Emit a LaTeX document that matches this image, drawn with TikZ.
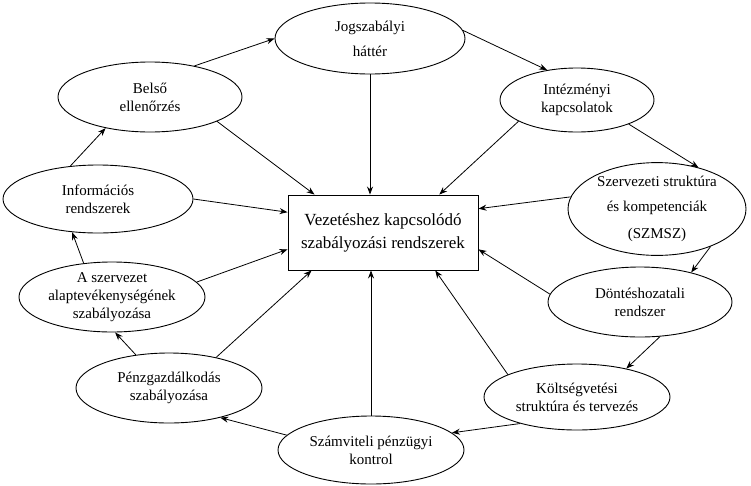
\documentclass[tikz,border=0pt]{standalone}
\usepackage{fontspec}
\setmainfont{Liberation Serif}
\usetikzlibrary{shapes.geometric,arrows.meta}

\begin{document}
\begin{tikzpicture}[x=1pt,y=-1pt,
  oval/.style 2 args={ellipse,draw,line width=0.9pt,inner sep=0pt,minimum width=#1,minimum height=#2,align=center,font=\fontsize{15}{18}\selectfont},
  mainbox/.style={rectangle,draw,line width=0.9pt,minimum width=190pt,minimum height=75pt,align=center,font=\fontsize{17}{23}\selectfont},
  link/.style={line width=0.8pt,-{Stealth[length=8pt,width=6pt]}}]
\useasboundingbox (0,0) rectangle (751,485);
\node[mainbox] (box) at (383,232.5) {Vezetéshez kapcsolódó\\szabályozási rendszerek};
\node[oval={190pt}{71pt}] (jog) at (370,38.5) {Jogszabályi\\[7pt]háttér};
\node[oval={184pt}{70pt}] (belso) at (150,97) {Belső\\ellenőrzés};
\node[oval={154pt}{64pt}] (int) at (577,100) {Intézményi\\kapcsolatok};
\node[oval={178pt}{88pt}] (szerv) at (657,209) {Szervezeti struktúra\\[7pt]és kompetenciák\\[9pt](SZMSZ)};
\node[oval={184pt}{70pt}] (dont) at (640,302) {Döntéshozatali\\rendszer};
\node[oval={186pt}{66pt}] (kolts) at (577,397) {Költségvetési\\struktúra és tervezés};
\node[oval={186pt}{68pt}] (szamv) at (371,450) {Számviteli pénzügyi\\kontrol};
\node[oval={186pt}{70pt}] (penz) at (169,388) {Pénzgazdálkodás\\szabályozása};
\node[oval={186pt}{70pt}] (aszerv) at (112,297) {A szervezet\\alaptevékenységének\\szabályozása};
\node[oval={190pt}{68pt}] (inf) at (98,199) {Információs\\rendszerek};

\draw[link] (belso.35) -- (jog.west);
\draw[link] (jog.5) -- (int.135);
\draw[link] (int.-25) -- (szerv.45);
\draw[link] (szerv.-35) -- (dont.30);
\draw[link] (dont.-60) -- (kolts.30);
\draw[link] (kolts.205) -- (szamv.12);
\draw[link] (szamv.170) -- (penz.-30);
\draw[link] (penz.135) -- (aszerv.-85);
\draw[link] (aszerv.130) -- (inf.-128);
\draw[link] (inf.130) -- (belso.-145);

\draw[link] (belso.-20) -- (box.151);
\draw[link] (jog.south) -- (jog.south |- box.north);
\draw[link] (int.200) -- (box.34);
\draw[link] (szerv.172) -- (box.14);
\draw[link] (dont.175) -- (box.-10);
\draw[link] (kolts.162) -- (box.-36);
\draw[link] (szamv.north) -- (szamv.north |- box.south);
\draw[link] (penz.33) -- (box.208);
\draw[link] (aszerv.10) -- (box.190);
\draw[link] (inf.east) -- (box.168);
\end{tikzpicture}
\end{document}
